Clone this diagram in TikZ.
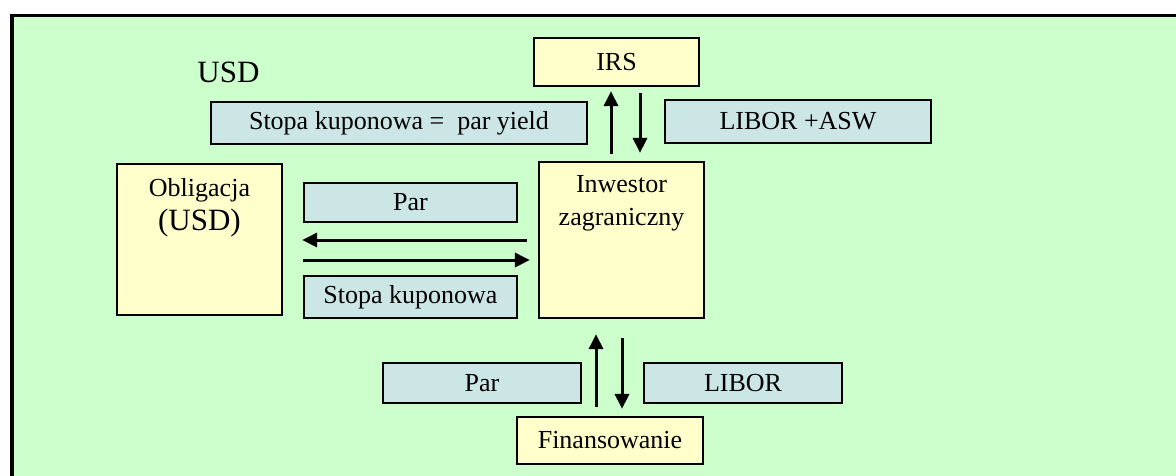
\documentclass[tikz,border=0pt]{standalone}
\usepackage{fontspec}
\setmainfont{Liberation Serif}
\usetikzlibrary{arrows.meta,calc}
\definecolor{bggreen}{HTML}{CCFFCC}
\definecolor{boxyellow}{HTML}{FFFFCC}
\definecolor{boxblue}{HTML}{CCE5E5}
\tikzset{
  party/.style={draw=black, line width=2.2pt, fill=boxyellow, inner sep=0pt,
    font=\fontsize{26}{32}\selectfont},
  flow/.style={draw=black, line width=2.2pt, fill=boxblue, inner sep=0pt,
    font=\fontsize{26}{32}\selectfont},
  arr/.style={line width=3pt, -{Triangle[length=15pt,width=14pt]}},
  lbl/.style={inner sep=0pt, align=center}
}
\begin{document}
\begin{tikzpicture}[x=1pt,y=-1pt]
  % canvas and framed panel
  \useasboundingbox (0,0) rectangle (1176,475);
  \fill[white] (0,0) rectangle (1176,475);
  \draw[line width=3.2pt, fill=bggreen] (12,15.5) rectangle (1190,490);

  % currency caption
  \node[lbl, font=\fontsize{31}{36}\selectfont] (usd) at (228.5,72) {USD};

  % parties
  \node[party, minimum width=165pt, minimum height=48pt] (irs) at (616.5,62) {IRS};
  \node[party, minimum width=165pt, minimum height=151pt] (obl) at (199.5,239.5) {};
  \node[lbl, font=\fontsize{26}{30}\selectfont] (oblt) at (199.5,190) {Obligacja};
  \node[lbl, font=\fontsize{31}{36}\selectfont] (oblc) at (199.5,223) {(USD)};
  \node[party, minimum width=165pt, minimum height=156pt] (inw) at (621.5,240) {};
  \node[lbl, font=\fontsize{26}{33}\selectfont] (inwt) at (621.5,203.5) {Inwestor\\zagraniczny};
  \node[party, minimum width=186pt, minimum height=47pt] (fin) at (610,440.5) {Finansowanie};

  % flow labels
  \node[flow, minimum width=376pt, minimum height=42pt] (pary) at (399,123) {Stopa kuponowa =\ \ par yield};
  \node[flow, minimum width=266pt, minimum height=43pt] (lasw) at (798,121.5) {LIBOR +ASW};
  \node[flow, minimum width=213pt, minimum height=39pt] (parA) at (410.5,202.5) {Par};
  \node[flow, minimum width=213pt, minimum height=42pt] (kup) at (410.5,297) {Stopa kuponowa};
  \node[flow, minimum width=198pt, minimum height=40pt] (parB) at (482,383) {Par};
  \node[flow, minimum width=198pt, minimum height=40pt] (lib) at (743,383) {LIBOR};

  % investor <-> IRS
  \draw[arr, shorten <=7pt, shorten >=4pt]
    ([xshift=-10.5pt]inw.north) -- ([xshift=-10.5pt]inw.north |- irs.south);
  \draw[arr, shorten <=6pt, shorten >=8pt]
    ([xshift=18.5pt]inw.north |- irs.south) -- ([xshift=18.5pt]inw.north);

  % investor <-> bond
  \draw[arr, shorten <=11pt, shorten >=19pt]
    (inw.west) -- (inw.west -| obl.east);
  \draw[arr, shorten <=20pt, shorten >=8pt]
    ([yshift=-20pt]inw.west -| obl.east) -- ([yshift=-20pt]inw.west);

  % investor <-> funding
  \draw[arr, shorten <=9pt, shorten >=15pt]
    ([xshift=-14pt]fin.north) -- ([xshift=-14pt]fin.north |- inw.south);
  \draw[arr, shorten <=19pt, shorten >=7pt]
    ([xshift=12pt]fin.north |- inw.south) -- ([xshift=12pt]fin.north);
\end{tikzpicture}
\end{document}
